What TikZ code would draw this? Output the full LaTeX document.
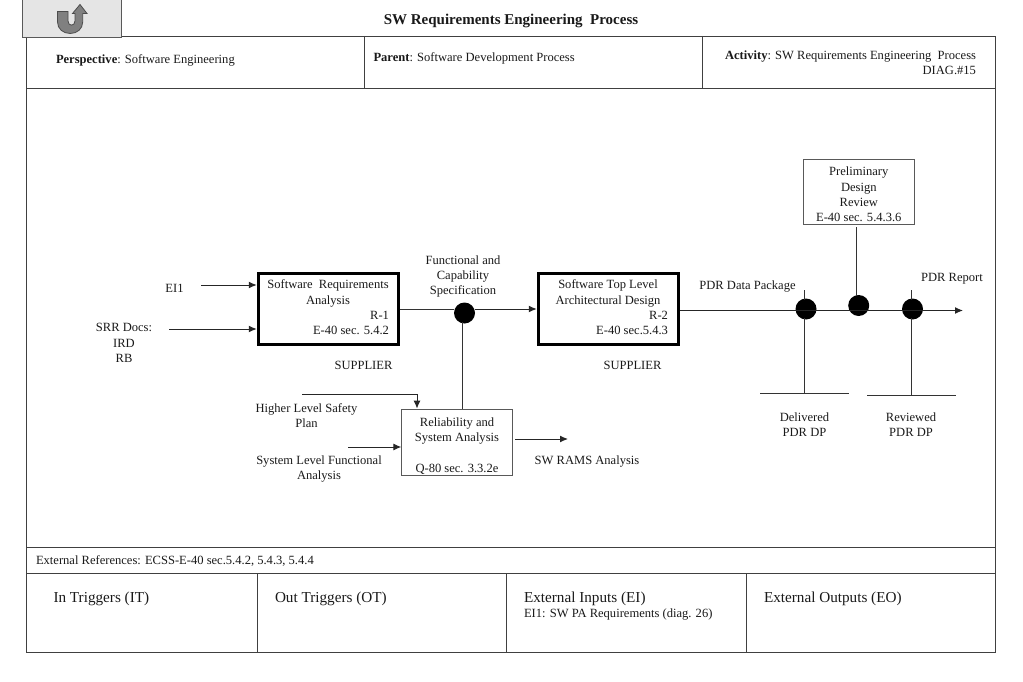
\documentclass[tikz,border=0pt]{standalone}
\usepackage{fontspec}
\setmainfont{Liberation Serif}
\usetikzlibrary{arrows.meta}
\tikzset{
  lbl/.style={inner sep=0pt,outer sep=0pt,font=\fontsize{12.55}{15.2}\selectfont,align=center,text=black!90,yshift=-1pt},
  big/.style={lbl,font=\fontsize{15.2}{18}\selectfont,anchor=west},
  frameline/.style={draw=black!75,line width=0.9pt},
  thickbox/.style={draw=black,line width=3pt,fill=white,inner sep=0pt},
  thinbox/.style={draw=black!65,line width=0.9pt,fill=white,inner sep=0pt},
  dot/.style={circle,fill=black,draw=none,minimum size=21pt,inner sep=0pt},
  flow/.style={draw=black!85,line width=1pt,-{Latex[length=8pt,width=7pt]}},
  plain/.style={draw=black!80,line width=0.9pt},
}
\begin{document}
\begin{tikzpicture}[x=1pt,y=-1pt]
\useasboundingbox (0,0) rectangle (1023,682);
% frame
\draw[frameline] (26.5,36) rectangle (995,652);
\draw[frameline] (26.5,88) -- (995,88);
\draw[frameline] (26.5,547) -- (995,547);
\draw[frameline] (26.5,573) -- (995,573);
\draw[frameline] (364,36) -- (364,88);
\draw[frameline] (702,36) -- (702,88);
\draw[frameline] (257.5,573) -- (257.5,652);
\draw[frameline] (506,573) -- (506,652);
\draw[frameline] (746,573) -- (746,652);
% button
\draw[draw=black!65,fill=black!10,line width=0.9pt] (22.5,-1) rectangle (121,37.5);
\draw[draw=black!70,fill=black!50,line width=0.8pt]
  (57.5,11.5) -- (68,11.5) -- (68,21) .. controls (68,26.5) and (75,26.5) .. (75,21)
  -- (75,13.5) -- (72.5,13.5) -- (80,4.5) -- (87,13.5) -- (82.7,13.5) -- (82.7,22)
  .. controls (82.7,29) and (77,33.5) .. (70.25,33.5)
  .. controls (63.25,33.5) and (57.5,29) .. (57.5,22) -- cycle;
% titles
\node[lbl,font=\fontsize{15}{18}\selectfont\bfseries] (title) at (511,19.5) {SW Requirements Engineering\ \ Process};
\node[lbl,anchor=west] (persp) at (56,59) {\textbf{Perspective}: Software Engineering};
\node[lbl,anchor=west] (parent) at (373.5,57) {\textbf{Parent}: Software Development Process};
\node[lbl,anchor=east,align=right] (activity) at (976,62) {\textbf{Activity}: SW Requirements Engineering\ \ Process\\DIAG.\#15};
% boxes
\node[thickbox,minimum width=140.5pt,minimum height=71pt] (r1) at (328.5,308.75) {};
\node[lbl,align=center] (r1a) at (328,292.5) {Software\ \ Requirements\\Analysis};
\node[lbl,align=right,anchor=east] (r1b) at (389,322) {R-1\\E-40 sec. 5.4.2};
\node[thickbox,minimum width=140.5pt,minimum height=71pt] (r2) at (608.5,308.75) {};
\node[lbl,align=center] (r2a) at (608,292.5) {Software Top Level\\Architectural Design};
\node[lbl,align=right,anchor=east] (r2b) at (668,322) {R-2\\E-40 sec.5.4.3};
\node[thinbox,minimum width=110.5pt,minimum height=66pt] (rel) at (457,442) {};
\node[lbl] (rela) at (457,430) {Reliability and\\System Analysis};
\node[lbl] (relb) at (457,468) {Q-80 sec. 3.3.2e};
\node[thinbox,minimum width=111pt,minimum height=65.7pt] (pdr) at (858.8,191.85) {};
\node[lbl] (pdrt) at (858.8,193.5) {Preliminary\\Design\\Review\\E-40 sec. 5.4.3.6};
% junctions
\node[dot] (j1) at (464.5,313) {};
\node[dot] (j2) at (806,309) {};
\node[dot] (j3) at (858.7,305.5) {};
\node[dot] (j4) at (912.5,309) {};
% labels
\node[lbl] (ei1) at (174.5,287) {EI1};
\node[lbl] (srr) at (124,342) {SRR Docs:\\IRD\\RB};
\node[lbl] (fcs) at (463,275.5) {Functional and\\Capability\\Specification};
\node[lbl] (sup1) at (363.5,364) {SUPPLIER};
\node[lbl] (sup2) at (632.5,364) {SUPPLIER};
\node[lbl] (hl) at (306.5,414.5) {Higher Level Safety\\Plan};
\node[lbl] (sl) at (319,468) {System Level Functional\\Analysis};
\node[lbl] (rams) at (587,460) {SW RAMS Analysis};
\node[lbl] (pdp) at (747.5,285.5) {PDR Data Package};
\node[lbl] (prep) at (952,278) {PDR Report};
\node[lbl] (del) at (804.5,424) {Delivered\\PDR DP};
\node[lbl] (rev) at (911,424) {Reviewed\\PDR DP};
% free ends
\coordinate (c1) at (201,285);
\coordinate (c2) at (169,329);
\coordinate (c3) at (302,394);
\coordinate (c3b) at (417,394);
\coordinate (c4) at (348,447);
\coordinate (c5) at (515,439);
\coordinate (c6) at (568,439);
\coordinate (c7) at (963,310.5);
\coordinate (c12) at (480,309);
\coordinate (c13) at (462.3,322);
% connectors
\draw[flow] (c1) -- (c1-|r1.west);
\draw[flow] (c2) -- (c2-|r1.west);
\draw[plain,line width=1pt] (r1.east|-c12) -- (j1.west|-c12);
\draw[flow] (c12-|j1.east) -- (c12-|r2.west);
\draw[plain] (rel.north-|c13) -- (c13);
\draw[flow] (c3) -- (c3b) -- (c3b|-rel.north);
\draw[flow] (c4) -- (c4-|rel.west);
\draw[flow] (c5) -- (c6);
\draw[flow] (r2.east|-c7) -- (c7);
\draw[plain] (804.7,290) -- (804.7,300);
\draw[plain] (911.4,290) -- (911.4,300);
\draw[plain] (856.3,227) -- (856.3,296);
\draw[plain] (804.5,318) -- (804.5,394);
\draw[plain] (911.4,318) -- (911.4,395);
\draw[plain] (760,393.8) -- (849,393.8);
\draw[plain] (867,395) -- (955.5,395);
% bottom
\node[lbl,anchor=west] (ext) at (36,560.5) {External References: ECSS-E-40 sec.5.4.2, 5.4.3, 5.4.4};
\node[big] (it) at (53.5,598) {In Triggers (IT)};
\node[big] (ot) at (275,598) {Out Triggers (OT)};
\node[big] (ei) at (524,598) {External Inputs (EI)};
\node[big] (eo) at (764,598) {External Outputs (EO)};
\node[lbl,anchor=west] (eitxt) at (524,613) {EI1: SW PA Requirements (diag. 26)};
\end{tikzpicture}
\end{document}
